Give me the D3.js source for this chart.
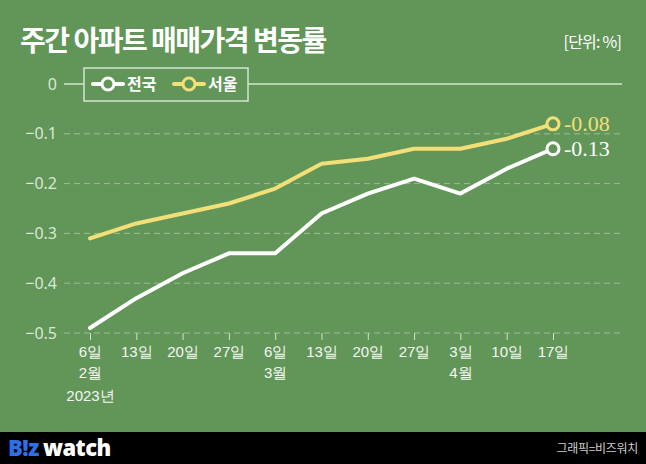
<!DOCTYPE html>
<html><head><meta charset="utf-8">
<script src="https://cdn.jsdelivr.net/npm/d3@7"></script>
<style>
html,body{margin:0;padding:0;background:#629659;}
svg{display:block;font-family:"Noto Sans CJK KR","Noto Sans",sans-serif;}
</style></head><body>
<svg id="c" width="646" height="464"></svg>
<script>
const days = ["6일","13일","20일","27일","6일","13일","20일","27일","3일","10일","17일"];
const months = ["2월","","","","3월","","","","4월","",""];
const years = ["2023년","","","","","","","","","",""];
const national = [-0.49,-0.43,-0.38,-0.34,-0.34,-0.26,-0.22,-0.19,-0.22,-0.17,-0.13];
const seoul = [-0.31,-0.28,-0.26,-0.24,-0.21,-0.16,-0.15,-0.13,-0.13,-0.11,-0.08];
const yTicks = [0,-0.1,-0.2,-0.3,-0.4,-0.5];
const seriesNames = ["전국","서울"];

const W = 646, H = 464;
const svg = d3.select("#c");
const green = "#629659", white = "#ffffff", yellow = "#f3df78", labelCol = "#d9e7d5";

svg.append("rect").attr("width",W).attr("height",H).attr("fill",green);
svg.append("rect").attr("y",432).attr("width",W).attr("height",H-432).attr("fill","#000");

const x = d3.scalePoint().domain(d3.range(days.length)).range([90,553]);
const y = d3.scaleLinear().domain([-0.5,0]).range([333,84]);

// gridlines
const grid = svg.append("g");
yTicks.forEach(t=>{
  grid.append("line").attr("x1",64).attr("x2",622).attr("y1",y(t)).attr("y2",y(t))
    .attr("stroke", t===0 ? "#b7d1b0" : "#9cbc95")
    .attr("stroke-width", t===0 ? 2 : 1)
    .attr("stroke-dasharray", t===0 ? null : "6,4");
});

// y axis labels
const yAxis = d3.axisLeft(y).tickValues(yTicks).tickSize(0).tickPadding(0)
  .tickFormat(d=> d===0 ? "0" : "\u2212" + d3.format(".1f")(-d));
const yg = svg.append("g").attr("transform","translate(57,0)").call(yAxis);
yg.select(".domain").remove();
yg.selectAll("text").attr("fill",labelCol).attr("font-size",16).attr("font-family","'Noto Sans','Noto Sans CJK KR',sans-serif");

// x axis
const xAxis = d3.axisBottom(x).tickSize(7).tickFormat(i=>days[i]).tickPadding(6);
const xg = svg.append("g").attr("transform","translate(0,333)").call(xAxis);
xg.select(".domain").remove();
xg.selectAll("line").attr("stroke","#cfe0ca").attr("stroke-width",1);
xg.selectAll("text").attr("fill","#f4f7f2").attr("font-size",15);
xg.selectAll(".tick").each(function(i){
  const g = d3.select(this);
  if(months[i]) g.append("text").attr("y",45).attr("fill","#f4f7f2").attr("font-size",15).attr("text-anchor","middle").text(months[i]);
  if(years[i]) g.append("text").attr("y",68).attr("fill","#f4f7f2").attr("font-size",15).attr("text-anchor","middle").text(years[i]);
});

const line = d3.line().x((d,i)=>x(i)).y(d=>y(d));
[[seoul,yellow],[national,white]].forEach(([data,col])=>{
  svg.append("path").datum(data).attr("d",line).attr("fill","none").attr("stroke",col).attr("stroke-width",4).attr("stroke-linecap","round").attr("stroke-linejoin","round");
  const last = data.length-1;
  svg.append("circle").attr("cx",x(last)).attr("cy",y(data[last])).attr("r",6)
    .attr("fill",green).attr("stroke",col).attr("stroke-width",3);
  svg.append("text").attr("x",x(last)+11).attr("y",y(data[last])+7)
    .attr("fill",col).attr("font-size",22).attr("font-family","'Liberation Serif','DejaVu Serif',serif")
    .text("-" + d3.format(".2f")(-data[last]));
});

// legend
const lg = svg.append("g");
lg.append("rect").attr("x",84).attr("y",68).attr("width",164).attr("height",33)
  .attr("fill",green).attr("stroke","#d5e4d1").attr("stroke-width",1.5);
[[white,seriesNames[0],93],[yellow,seriesNames[1],174]].forEach(([col,name,lx])=>{
  lg.append("line").attr("x1",lx).attr("x2",lx+30).attr("y1",84).attr("y2",84).attr("stroke",col).attr("stroke-width",4).attr("stroke-linecap","round");
  lg.append("circle").attr("cx",lx+15).attr("cy",84).attr("r",6).attr("fill",green).attr("stroke",col).attr("stroke-width",3);
  lg.append("text").attr("x",lx+34).attr("y",90).attr("fill","#fff").attr("font-size",16).attr("font-weight",700).text(name);
});

// title
svg.append("text").attr("x",20).attr("y",51).attr("fill","#fff").attr("font-size",28).attr("font-weight",700).attr("letter-spacing",-1.5).text("주간 아파트 매매가격 변동률");
svg.append("text").attr("x",621).attr("y",48).attr("text-anchor","end").attr("fill","#fff").attr("font-size",16).attr("letter-spacing",-0.8).text("[단위: %]");

// footer
const ft = svg.append("text").attr("x",8).attr("y",456).attr("font-size",22).attr("font-weight",900).attr("font-family","'Noto Sans','DejaVu Sans',sans-serif").attr("letter-spacing",-0.5);
ft.append("tspan").attr("fill","#2f6fe6").text("B!z");
ft.append("tspan").attr("fill","#fff").attr("dx",4).text("watch");
svg.append("text").attr("x",638).attr("y",453).attr("text-anchor","end").attr("fill","#cfcfcf").attr("font-size",12).attr("letter-spacing",-0.3).text("그래픽=비즈워치");
</script>
</body></html>
